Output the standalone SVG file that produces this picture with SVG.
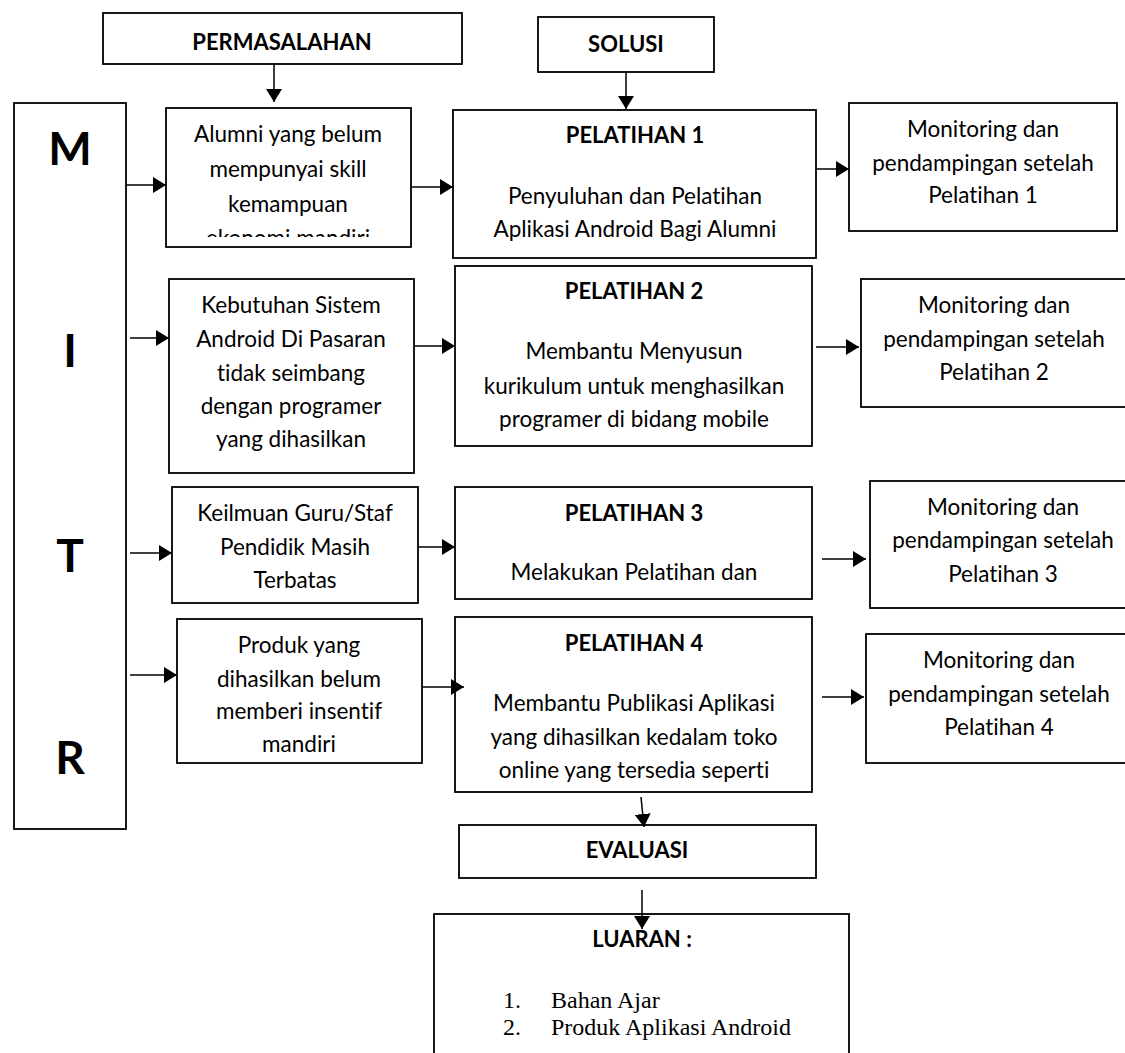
<svg xmlns="http://www.w3.org/2000/svg" width="1125" height="1053" viewBox="0 0 1125 1053">
<style>
.box{fill:#fff;stroke:#000;stroke-width:1.8}
.t{font-family:Lato,"Liberation Sans",sans-serif;font-size:22.5px;fill:#000;text-anchor:middle;font-variant-ligatures:none}
.b{font-family:Lato,"Liberation Sans",sans-serif;font-size:22px;font-weight:bold;fill:#000;text-anchor:middle;font-variant-ligatures:none}
.big{font-family:Lato,"Liberation Sans",sans-serif;font-size:46px;font-weight:bold;fill:#000;text-anchor:middle}
.s{font-family:"Liberation Serif","Times New Roman",serif;font-size:24px;fill:#000}
.c{fill:none;stroke:#000;stroke-width:1.5;marker-end:url(#ah)}
</style>
<defs>
<marker id="ah" markerUnits="userSpaceOnUse" markerWidth="13" markerHeight="16" refX="13" refY="8" orient="auto">
<path d="M0,0 L13,8 L0,16 z" fill="#000"/>
</marker>
<clipPath id="clipAlumni"><rect x="166" y="108" width="245" height="129"/></clipPath>
<clipPath id="clipProduk"><rect x="177" y="619" width="245" height="134"/></clipPath>
<clipPath id="clipPel4"><rect x="455" y="617" width="357" height="165"/></clipPath>
</defs>
<rect width="1125" height="1053" fill="#fff"/>

<g id="mitr">
<rect class="box" x="14" y="103" width="112" height="726"/>
<text class="big" x="70" y="165">M</text>
<text class="big" x="70" y="367">I</text>
<text class="big" x="70" y="572">T</text>
<text class="big" x="70" y="774">R</text>
</g>

<g id="permasalahan">
<rect class="box" x="103" y="13" width="359" height="51"/>
<text class="b" x="282" y="50">PERMASALAHAN</text>
</g>

<g id="solusi">
<rect class="box" x="538" y="17" width="176" height="55"/>
<text class="b" x="626" y="52">SOLUSI</text>
</g>

<g id="alumni">
<rect class="box" x="166" y="108" width="245" height="139"/>
<g clip-path="url(#clipAlumni)">
<text class="t" x="288" y="142">Alumni yang belum</text>
<text class="t" x="288" y="177">mempunyai skill</text>
<text class="t" x="288" y="212">kemampuan</text>
<text class="t" x="288" y="246">ekonomi mandiri</text>
</g>
</g>

<g id="pelatihan1">
<rect class="box" x="453" y="110" width="363" height="148"/>
<text class="b" x="635" y="143">PELATIHAN 1</text>
<text class="t" x="635" y="204">Penyuluhan dan Pelatihan</text>
<text class="t" x="635" y="237">Aplikasi Android Bagi Alumni</text>
</g>

<g id="monitoring1">
<rect class="box" x="849" y="103" width="268" height="128"/>
<text class="t" x="983" y="137">Monitoring dan</text>
<text class="t" x="983" y="171">pendampingan setelah</text>
<text class="t" x="983" y="203">Pelatihan 1</text>
</g>

<g id="kebutuhan">
<rect class="box" x="169" y="279" width="245" height="194"/>
<text class="t" x="291" y="313">Kebutuhan Sistem</text>
<text class="t" x="291" y="347">Android Di Pasaran</text>
<text class="t" x="291" y="381">tidak seimbang</text>
<text class="t" x="291" y="414">dengan programer</text>
<text class="t" x="291" y="447">yang dihasilkan</text>
</g>

<g id="pelatihan2">
<rect class="box" x="455" y="266" width="357" height="180"/>
<text class="b" x="634" y="299">PELATIHAN 2</text>
<text class="t" x="634" y="359">Membantu Menyusun</text>
<text class="t" x="634" y="394">kurikulum untuk menghasilkan</text>
<text class="t" x="634" y="427">programer di bidang mobile</text>
</g>

<g id="monitoring2">
<rect class="box" x="861" y="279" width="267" height="128"/>
<text class="t" x="994" y="313">Monitoring dan</text>
<text class="t" x="994" y="347">pendampingan setelah</text>
<text class="t" x="994" y="380">Pelatihan 2</text>
</g>

<g id="keilmuan">
<rect class="box" x="172" y="487" width="246" height="116"/>
<text class="t" x="295" y="521">Keilmuan Guru/Staf</text>
<text class="t" x="295" y="555">Pendidik Masih</text>
<text class="t" x="295" y="588">Terbatas</text>
</g>

<g id="pelatihan3">
<rect class="box" x="455" y="487" width="357" height="112"/>
<text class="b" x="634" y="521">PELATIHAN 3</text>
<text class="t" x="634" y="580">Melakukan Pelatihan dan</text>
</g>

<g id="monitoring3">
<rect class="box" x="870" y="481" width="266" height="127"/>
<text class="t" x="1003" y="515">Monitoring dan</text>
<text class="t" x="1003" y="548">pendampingan setelah</text>
<text class="t" x="1003" y="582">Pelatihan 3</text>
</g>

<g id="produk">
<rect class="box" x="177" y="619" width="245" height="144"/>
<g clip-path="url(#clipProduk)">
<text class="t" x="299" y="653">Produk yang</text>
<text class="t" x="299" y="687">dihasilkan belum</text>
<text class="t" x="299" y="719">memberi insentif</text>
<text class="t" x="299" y="752">mandiri</text>
</g>
</g>

<g id="pelatihan4">
<rect class="box" x="455" y="617" width="357" height="175"/>
<text class="b" x="634" y="651">PELATIHAN 4</text>
<g clip-path="url(#clipPel4)">
<text class="t" x="634" y="711">Membantu Publikasi Aplikasi</text>
<text class="t" x="634" y="745">yang dihasilkan kedalam toko</text>
<text class="t" x="634" y="778">online yang tersedia seperti</text>
</g>
</g>

<g id="monitoring4">
<rect class="box" x="866" y="634" width="266" height="129"/>
<text class="t" x="999" y="668">Monitoring dan</text>
<text class="t" x="999" y="702">pendampingan setelah</text>
<text class="t" x="999" y="735">Pelatihan 4</text>
</g>

<g id="evaluasi">
<rect class="box" x="459" y="825" width="357" height="53"/>
<text class="b" x="637" y="858">EVALUASI</text>
</g>

<g id="luaran">
<rect class="box" x="434" y="914" width="415" height="160"/>
<text class="b" x="642" y="947">LUARAN :</text>
<text class="s" x="503" y="1008">1.</text>
<text class="s" x="551" y="1008">Bahan Ajar</text>
<text class="s" x="503" y="1035">2.</text>
<text class="s" x="551" y="1035">Produk Aplikasi Android</text>
</g>

<g id="connectors">
<path class="c" d="M274,64 L274,102"/>
<path class="c" d="M626,72 L626,109"/>
<path class="c" d="M126,185 L166,185"/>
<path class="c" d="M411,187 L453,187"/>
<path class="c" d="M816,169 L849,169"/>
<path class="c" d="M130,338 L169,338"/>
<path class="c" d="M414,346 L455,346"/>
<path class="c" d="M816,347 L859,347"/>
<path class="c" d="M130,553 L172,553"/>
<path class="c" d="M418,547 L455,547"/>
<path class="c" d="M822,559 L866,559"/>
<path class="c" d="M130,675 L177,675"/>
<path class="c" d="M422,687 L464,687"/>
<path class="c" d="M822,697 L864,697"/>
<path class="c" d="M641,797 L644,827"/>
<path class="c" d="M642,890 L642,929"/>
</g>
</svg>
